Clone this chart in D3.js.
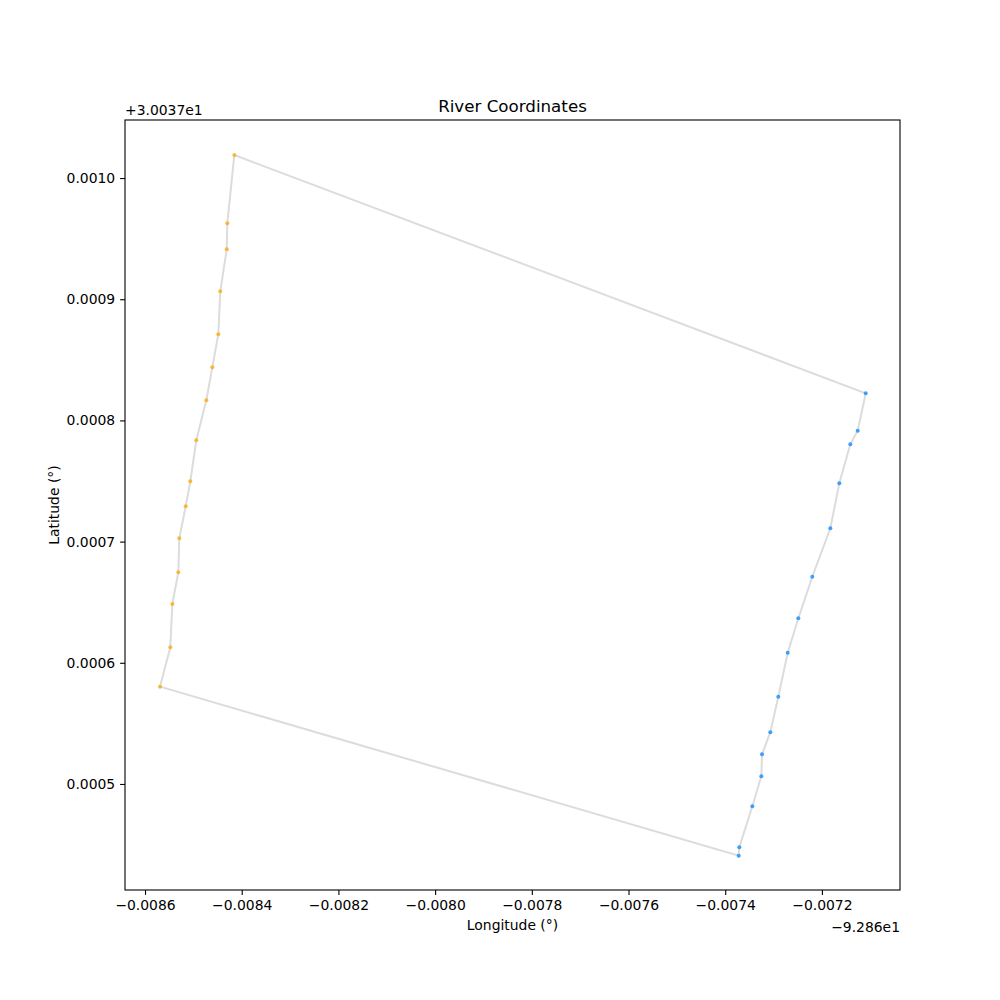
<!DOCTYPE html>
<html><head><meta charset="utf-8">
<script src="https://cdn.jsdelivr.net/npm/d3@7"></script>
<style>body{margin:0;background:#fff}svg{display:block}text{font-family:"DejaVu Sans",sans-serif}</style>
</head><body>
<svg id="c" width="1000" height="1000"></svg>
<script>
// Left bank (orange), top to bottom
const leftLon = [-92.8684153,-92.8684298,-92.8684310,-92.8684443,-92.8684484,-92.8684608,-92.8684732,-92.8684939,-92.8685063,-92.8685158,-92.8685291,-92.8685311,-92.8685435,-92.8685477,-92.8685690];
const leftLat = [30.0380190,30.0379626,30.0379412,30.0379065,30.0378710,30.0378438,30.0378166,30.0377836,30.0377498,30.0377291,30.0377027,30.0376747,30.0376485,30.0376128,30.0375803];
// Right bank (blue), top to bottom
const rightLon = [-92.8671094,-92.8671260,-92.8671413,-92.8671640,-92.8671826,-92.8672199,-92.8672488,-92.8672707,-92.8672902,-92.8673067,-92.8673239,-92.8673253,-92.8673439,-92.8673708,-92.8673721];
const rightLat = [30.0378224,30.0377915,30.0377803,30.0377481,30.0377110,30.0376710,30.0376367,30.0376083,30.0375720,30.0375427,30.0375245,30.0375064,30.0374816,30.0374478,30.0374408];
const lonOffset = -92.86, latOffset = 30.037;
const xTicks = [-0.0086,-0.0084,-0.0082,-0.0080,-0.0078,-0.0076,-0.0074,-0.0072];
const yTicks = [0.0005,0.0006,0.0007,0.0008,0.0009,0.0010];

const svg = d3.select("#c");
const L=125,R=900,T=120,B=890;
const x = d3.scaleLinear().domain([lonOffset-0.0086414, lonOffset-0.0070385]).range([L,R]);
const y = d3.scaleLinear().domain([latOffset+0.0004125, latOffset+0.0010479]).range([B,T]);
const fmt = v => (v<0?"\u2212":"")+Math.abs(v).toFixed(4);

// polygon path: left bank top->bottom, right bank bottom->top, close
const pts = [];
leftLon.forEach((v,i)=>pts.push([v,leftLat[i]]));
for(let i=rightLon.length-1;i>=0;i--) pts.push([rightLon[i],rightLat[i]]);
pts.push(pts[0]);
svg.append("path").attr("d", d3.line().x(d=>x(d[0])).y(d=>y(d[1]))(pts))
  .attr("fill","none").attr("stroke","#dcdcdc").attr("stroke-width",2);

svg.append("g").selectAll("circle").data(leftLon.map((v,i)=>[v,leftLat[i]])).join("circle")
  .attr("cx",d=>x(d[0])).attr("cy",d=>y(d[1])).attr("r",2).attr("fill","orange").attr("fill-opacity",0.75);
svg.append("g").selectAll("circle").data(rightLon.map((v,i)=>[v,rightLat[i]])).join("circle")
  .attr("cx",d=>x(d[0])).attr("cy",d=>y(d[1])).attr("r",2).attr("fill","#1e90ff").attr("fill-opacity",0.85);

// frame
svg.append("rect").attr("x",L).attr("y",T).attr("width",R-L).attr("height",B-T)
  .attr("fill","none").attr("stroke","#000").attr("stroke-width",1.1);

const xa = svg.append("g").attr("transform",`translate(0,${B})`)
  .call(d3.axisBottom(x).tickValues(xTicks.map(t=>t+lonOffset)).tickFormat(v=>fmt(v-lonOffset)).tickSize(4.9).tickPadding(4.9));
const ya = svg.append("g").attr("transform",`translate(${L},0)`)
  .call(d3.axisLeft(y).tickValues(yTicks.map(t=>t+latOffset)).tickFormat(v=>fmt(v-latOffset)).tickSize(4.9).tickPadding(4.9));
[xa,ya].forEach(a=>{a.select(".domain").remove();
  a.selectAll("line").attr("stroke","#000").attr("stroke-width",1.1);
  a.selectAll("text").attr("font-size","13.9px").attr("fill","#000").attr("font-family","DejaVu Sans");});

svg.append("text").attr("x",L).attr("y",T-5).attr("font-size","13.9px").text("+3.0037e1");
svg.append("text").attr("x",R).attr("y",B+42).attr("text-anchor","end").attr("font-size","13.9px").text("\u22129.286e1");
svg.append("text").attr("x",(L+R)/2).attr("y",B+40).attr("text-anchor","middle").attr("font-size","13.9px").text("Longitude (°)");
svg.append("text").attr("transform",`translate(59,${(T+B)/2}) rotate(-90)`).attr("text-anchor","middle").attr("font-size","13.9px").text("Latitude (°)");
svg.append("text").attr("x",(L+R)/2).attr("y",T-8).attr("text-anchor","middle").attr("font-size","16.7px").text("River Coordinates");
</script>
</body></html>
